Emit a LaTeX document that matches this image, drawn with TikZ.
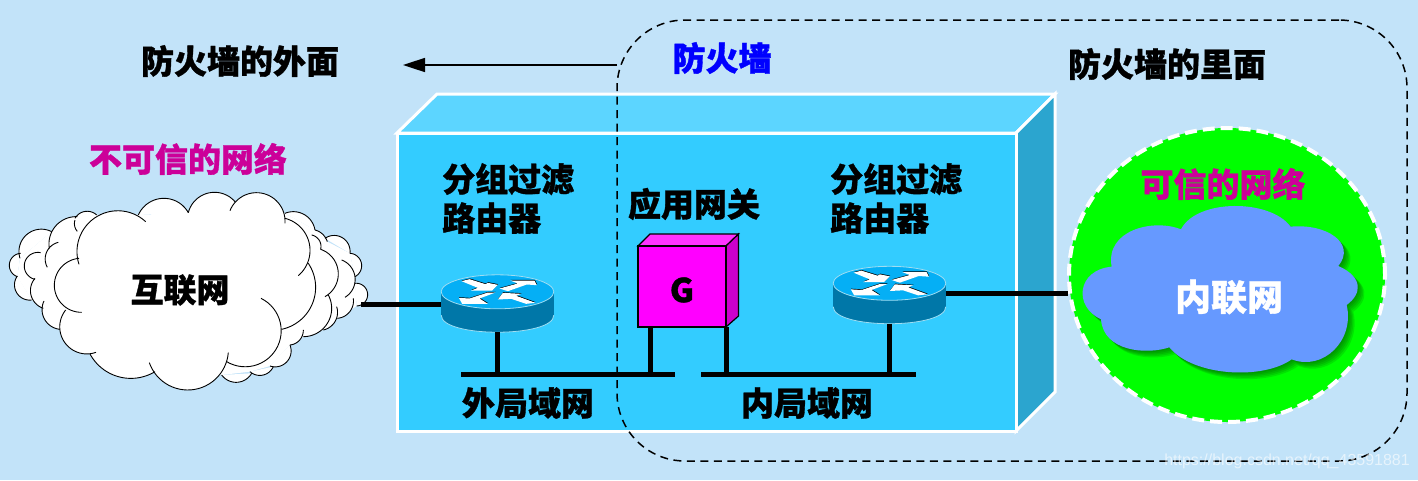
\documentclass[tikz,border=0pt]{standalone}
\usepackage{fontspec}
\usetikzlibrary{shapes.geometric,arrows.meta}
\setmainfont{Noto Sans CJK SC}[BoldFeatures={FakeBold=1}]
\newfontfamily\wmfont{Liberation Sans}
\definecolor{bgc}{HTML}{C2E3F9}
\definecolor{boxfront}{HTML}{33CCFF}
\definecolor{boxtop}{HTML}{5CD5FF}
\definecolor{boxside}{HTML}{2BA5CF}
\definecolor{mag}{HTML}{CC0099}
\definecolor{gfront}{HTML}{FF00FF}
\definecolor{gtop}{HTML}{FF33FF}
\definecolor{gside}{HTML}{CC00CC}
\definecolor{rtop}{HTML}{05AFF5}
\definecolor{rside}{HTML}{0077A8}
\definecolor{redge}{HTML}{9FDDF2}
\definecolor{bluecloud}{HTML}{6699FF}
% circular arc through three points a, m, b
\newcommand\cloudarc[6]{%
  \pgfmathsetmacro\ux{(#3-#1)/100}\pgfmathsetmacro\uy{(#4-#2)/100}%
  \pgfmathsetmacro\vx{(#5-#1)/100}\pgfmathsetmacro\vy{(#6-#2)/100}%
  \pgfmathsetmacro\dd{2*(\ux*\vy-\uy*\vx)}%
  \pgfmathsetmacro\uu{\ux*\ux+\uy*\uy}\pgfmathsetmacro\vv{\vx*\vx+\vy*\vy}%
  \pgfmathsetmacro\ccx{(\vy*\uu-\uy*\vv)/\dd}\pgfmathsetmacro\ccy{(\ux*\vv-\vx*\uu)/\dd}%
  \pgfmathsetmacro\rr{100*sqrt(\ccx*\ccx+\ccy*\ccy)}%
  \pgfmathsetmacro\sa{atan2(-\ccy,-\ccx)}\pgfmathsetmacro\ea{atan2(\vy-\ccy,\vx-\ccx)}%
  \pgfmathsetmacro\ea{\dd>0 ? \sa+Mod(\ea-\sa,360) : \sa-Mod(\sa-\ea,360)}%
  \pgfmathsetmacro\ox{#1+100*\ccx}\pgfmathsetmacro\oy{#2+100*\ccy}%
  \path[cloudpass] plot[domain=\sa:\ea,samples=30] ({\ox+\rr*cos(\x)},{\oy+\rr*sin(\x)});}
\newcommand\backarcs{%
  \cloudarc{52}{320}{28}{285}{62}{250}
  \cloudarc{60}{265}{85}{190}{155}{185}
  \cloudarc{148}{235}{175}{160}{232}{140}
  \cloudarc{225}{145}{258}{124}{290}{135}
  \cloudarc{225}{150}{224}{168}{232}{184}
  \cloudarc{52}{318}{55}{375}{95}{390}
  \cloudarc{105}{328}{80}{265}{122}{248}
  \cloudarc{105}{325}{92}{370}{130}{415}
  \cloudarc{132}{393}{135}{450}{180}{478}
  \cloudarc{175}{217}{137}{255}{142}{292}
  \cloudarc{855}{130}{915}{135}{945}{180}
  \cloudarc{945}{180}{965}{190}{982}{215}
  \cloudarc{935}{195}{960}{215}{962}{238}
  \cloudarc{975}{205}{1030}{205}{1050}{250}
  \cloudarc{1050}{250}{1085}{285}{1065}{320}
  \cloudarc{1025}{270}{1065}{320}{1035}{382}
  \cloudarc{962}{238}{1015}{310}{975}{380}
  \cloudarc{1065}{340}{1103}{375}{1070}{408}
  \cloudarc{1060}{385}{1045}{430}{1012}{445}
  \cloudarc{985}{375}{975}{470}{910}{500}
  \cloudarc{1010}{410}{1005}{455}{970}{480}
  \cloudarc{910}{480}{903}{505}{870}{525}
  \cloudarc{870}{525}{865}{570}{810}{588}
  \cloudarc{820}{590}{790}{615}{750}{605}
  \cloudarc{755}{610}{710}{637}{665}{615}
}
\newcommand\frontarcs{%
  \cloudarc{237}{283}{290}{140}{437}{155}
  \cloudarc{415}{135}{490}{85}{565}{128}
  \cloudarc{565}{128}{640}{67}{705}{95}
  \cloudarc{690}{122}{770}{68}{855}{160}
  \cloudarc{855}{145}{930}{235}{895}{317}
  \cloudarc{925}{280}{947}{350}{845}{478}
  \cloudarc{783}{385}{843}{470}{680}{575}
  \cloudarc{685}{548}{560}{660}{448}{578}
  \cloudarc{465}{605}{385}{625}{270}{552}
  \cloudarc{288}{547}{205}{530}{197}{420}
  \cloudarc{245}{427}{163}{345}{237}{265}
}
\newcommand\bluepath{(423,358) .. controls (470,266) and (690,266) .. (752,350)
  .. controls (860,340) and (950,400) .. (895,468)
  .. controls (968,500) and (968,550) .. (920,585)
  .. controls (945,690) and (850,785) .. (755,748)
  .. controls (670,810) and (460,800) .. (388,712)
  .. controls (320,735) and (190,725) .. (183,628)
  .. controls (100,590) and (110,480) .. (215,470)
  .. controls (195,360) and (340,325) .. (423,358) -- cycle}
\newcommand\routerarrows{%
  \fill[rarrowfill] (124,184)--(148,178)--(196,193)--(203,189)--(233,195)--(216,212)--(153,212)--(173,204)--cycle;
  \fill[rarrowfill] (238,206)--(293,191)--(270,182)--(343,182)--(350,196)--(320,194)--(263,214)--cycle;
  \fill[rarrowfill] (226,218)--(178,236)--(203,252)--(126,252)--(116,234)--(148,236)--(203,218)--cycle;
  \fill[rarrowfill] (346,249)--(318,252)--(273,237)--(233,239)--(248,219)--(303,222)--(288,228)--cycle;
}
\tikzset{
  cn/.style={font=\bfseries\fontsize{33}{39}\selectfont,inner sep=0pt,align=left},
  net/.style={line width=5pt,draw=black},
  cloudpass/.style={},
  rarrowfill/.style={},
  rbox/.style={minimum width=113pt,minimum height=57pt,inner sep=0pt,outer sep=0pt},
  pics/router/.style={code={
    \fill[rside] (-56.3,-11.7) -- (-56.3,11.7) .. controls (-56.3,34.4) and (56.3,34.4) .. (56.3,11.7) -- (56.3,-11.7) -- cycle;
    \draw[redge,line width=.8pt] (-56.3,11.7) .. controls (-56.3,34.4) and (56.3,34.4) .. (56.3,11.7);
    \draw[redge,line width=.8pt,fill=rtop] (0,-11.7) ellipse[x radius=56.3,y radius=17];
    \begin{scope}[x=.3333pt,y=-.3333pt,shift={(-232,-251)}]
      \begin{scope}[shift={(1,-2)},rarrowfill/.style={fill=black}]
        \routerarrows
      \end{scope}
      \begin{scope}[rarrowfill/.style={fill=white}]
        \routerarrows
      \end{scope}
    \end{scope}
  }}
}
\begin{document}
\begin{tikzpicture}[x=1pt,y=-1pt]
\useasboundingbox (0,0) rectangle (1418,480);
\fill[bgc] (0,0) rectangle (1418,480);

% firewall block
\draw[white,line width=3pt,fill=boxtop,line join=miter] (397,133)--(437,94)--(1055,94)--(1016,133)--cycle;
\draw[white,line width=3pt,fill=boxside,line join=miter] (1016,133)--(1055,94)--(1055,392)--(1016,431)--cycle;
\node[draw=white,line width=3pt,fill=boxfront,minimum width=619pt,minimum height=298pt,inner sep=0pt] (block) at (706.5,282) {};

% dashed firewall zone
\node[draw=black,line width=1.5pt,dash pattern=on 8pt off 5.5pt,rounded corners=68pt,minimum width=790pt,minimum height=441pt,inner sep=0pt,outer sep=0pt] (zone) at (1012,240.5) {};

% untrusted cloud
\begin{scope}[shift={(0,170)},x=.3333pt,y=-.3333pt]
  \begin{scope}[cloudpass/.style={fill=white}]
    \fill[white] (52,320)--(60,265)--(155,185)--(232,140)--(290,135)--(855,130)--(945,180)--(982,215)--(1050,250)--(1065,320)--(1070,408)--(1012,445)--(970,480)--(910,500)--(870,525)--(810,588)--(750,605)--(665,615)--(400,600)--(180,478)--(130,415)--(95,390)--cycle;
    \backarcs
  \end{scope}
  \begin{scope}[cloudpass/.style={draw=black,line width=.9pt}]
    \backarcs
  \end{scope}
  \begin{scope}[cloudpass/.style={fill=white}]
    \fill[white] (197,420)--(237,283)--(290,140)--(437,155)--(490,85)--(565,128)--(640,67)--(705,95)--(690,122)--(770,68)--(855,160)--(930,235)--(947,350)--(845,478)--(750,592)--(680,575)--(560,660)--(448,578)--(385,625)--(270,552)--cycle;
    \frontarcs
  \end{scope}
  \begin{scope}[cloudpass/.style={draw=black,line width=.9pt}]
    \frontarcs
  \end{scope}
\end{scope}
\coordinate (cloudport) at (361,304);

% trusted network
\node[ellipse,draw=white,line width=4pt,dash pattern=on 12pt off 6pt,fill=green,minimum width=316pt,minimum height=294pt,inner sep=0pt,outer sep=0pt] (trusted) at (1227,275) {};
\begin{scope}[shift={(1040,110)},x=.3333pt,y=-.3333pt]
  \foreach \o in {20,16,12,8,4}{
    \fill[black!70!green,fill opacity=.15,shift={(\o,\o)}] \bluepath;
  }
  \fill[bluecloud] \bluepath;
\end{scope}
\coordinate (trustport) at (1068,293);

% routers
\node[rbox] (r1) at (497.5,303.5) {};
\node[rbox] (r2) at (889.5,295) {};
\pic at (r1) {router};
\pic at (r2) {router};

% gateway
\filldraw[fill=gtop,draw=black,line width=1.2pt] (638,246)--(650,234)--(738.5,234)--(726,246)--cycle;
\filldraw[fill=gside,draw=black,line width=1.2pt] (726,246)--(738.5,234)--(738.5,316)--(726,327)--cycle;
\node[draw=black,line width=1.2pt,fill=gfront,minimum width=88pt,minimum height=81pt,inner sep=0pt,outer sep=0pt] (gw) at (682,286.5) {};
\node[cn] (glabel) at (682,290) {G};
\coordinate (gwL) at (650,327); \coordinate (gwR) at (726,327);

% LANs
\coordinate (lanA) at (461,374); \coordinate (lanB) at (675,374);
\coordinate (lanC) at (701,374); \coordinate (lanD) at (916,374);
\draw[net] (lanA) -- (lanB);
\draw[net] (lanC) -- (lanD);
\draw[net] (r1.south) -- (r1.south |- lanA);
\draw[net] (gwL) -- (gwL |- lanA);
\draw[net] (gwR) -- (gwR |- lanC);
\draw[net] (r2.south) -- (r2.south |- lanC);
\draw[net] (cloudport) -- (r1.west |- cloudport);
\draw[net] (r2.east |- trustport) -- (trustport);

% direction arrow
\coordinate (zoneport) at (617,65);
\coordinate (outside) at (403,65);
\draw[line width=1.6pt,-{Triangle[length=22pt,width=14pt]}] (zoneport) -- (outside);

% labels
\node[cn] (t1) at (240,61) {防火墙的外面};
\node[cn,text=blue] (t2) at (722,58) {防火墙};
\node[cn] (t3) at (1167,64) {防火墙的里面};
\node[cn,text=mag] (t4) at (188,159) {不可信的网络};
\node[cn,text=mag] (t5) at (1223,184) {可信的网络};
\node[cn,anchor=north west] (t6) at (442,163) {分组过滤\\路由器};
\node[cn,anchor=north west] (t7) at (830,163) {分组过滤\\路由器};
\node[cn] (t8) at (694,204) {应用网关};
\node[cn] (t9) at (528,403) {外局域网};
\node[cn] (t10) at (807,403) {内局域网};
\node[cn] (t11) at (180,290) {互联网};
\node[cn,text=white,font=\bfseries\fontsize{36}{40}\selectfont] (t12) at (1229,297) {内联网};
\node[font=\wmfont\fontsize{16}{20}\selectfont,text=white,opacity=.6,inner sep=0pt,anchor=east] (wm) at (1410,461) {https://blog.csdn.net/qq\_43591881};
\end{tikzpicture}
\end{document}
